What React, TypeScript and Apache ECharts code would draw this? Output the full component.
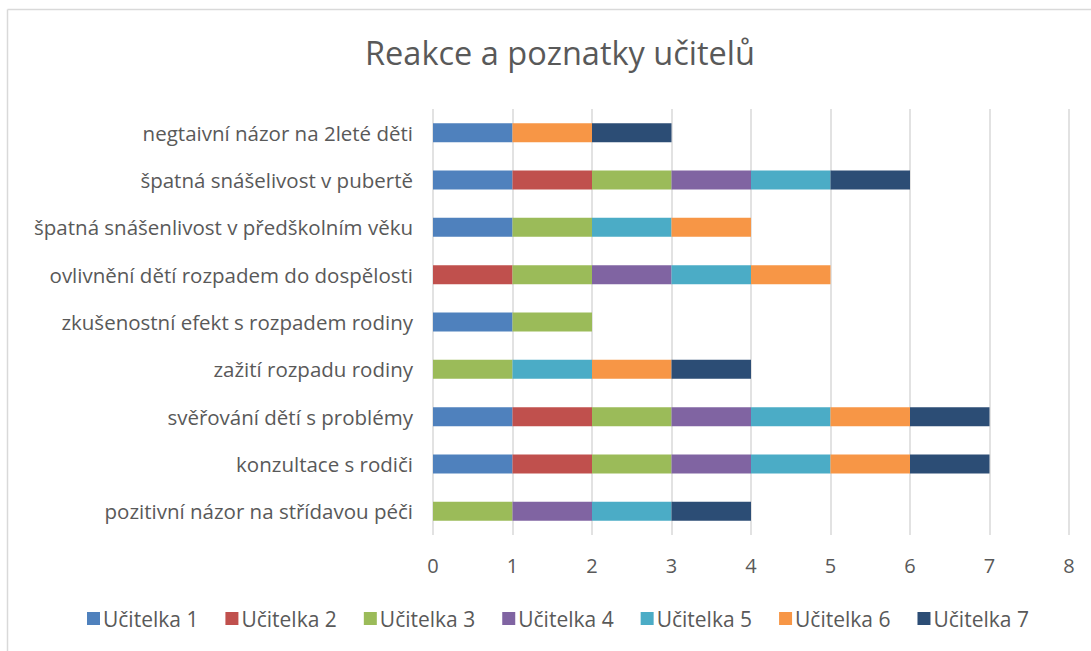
import React, { useEffect, useRef } from "react";
import * as echarts from "echarts";

const categories = [
  "pozitivní názor na střídavou péči",
  "konzultace s rodiči",
  "svěřování dětí s problémy",
  "zažití rozpadu rodiny",
  "zkušenostní efekt s rozpadem rodiny",
  "ovlivnění dětí rozpadem do dospělosti",
  "špatná snášenlivost v předškolním věku",
  "špatná snášelivost v pubertě",
  "negtaivní názor na 2leté děti",
];

const seriesNames = [
  "Učitelka 1",
  "Učitelka 2",
  "Učitelka 3",
  "Učitelka 4",
  "Učitelka 5",
  "Učitelka 6",
  "Učitelka 7",
];

const ucitelka1 = [0, 1, 1, 0, 1, 0, 1, 1, 1];
const ucitelka2 = [0, 1, 1, 0, 0, 1, 0, 1, 0];
const ucitelka3 = [1, 1, 1, 1, 1, 1, 1, 1, 0];
const ucitelka4 = [1, 1, 1, 0, 0, 1, 0, 1, 0];
const ucitelka5 = [1, 1, 1, 1, 0, 1, 1, 1, 0];
const ucitelka6 = [0, 1, 1, 1, 0, 1, 1, 0, 1];
const ucitelka7 = [1, 1, 1, 1, 0, 0, 0, 1, 1];

const seriesValues = [ucitelka1, ucitelka2, ucitelka3, ucitelka4, ucitelka5, ucitelka6, ucitelka7];

const colors = ["#4F81BD", "#C0504D", "#9BBB59", "#8064A2", "#4BACC6", "#F79646", "#2C4D75"];

const FONT = "'Open Sans', 'Noto Sans', sans-serif";
const TEXT = "#595959";

export default function App() {
  const ref = useRef<HTMLDivElement>(null);

  useEffect(() => {
    if (!ref.current) return;
    const chart = echarts.init(ref.current, null, { renderer: "svg" });
    chart.setOption({
      animation: false,
      color: colors,
      textStyle: { fontFamily: FONT },
      title: {
        text: "Reakce a poznatky učitelů",
        left: 555,
        textAlign: "center",
        top: 31,
        textStyle: { fontFamily: FONT, fontSize: 32.5, fontWeight: "normal", color: TEXT },
      },
      graphic: [
        {
          type: "line",
          shape: { x1: 7.5, y1: 9.5, x2: 7.5, y2: 651 },
          style: { stroke: "#d9d9d9", lineWidth: 1.5 },
          silent: true,
        },
        {
          type: "line",
          shape: { x1: 7.5, y1: 9.5, x2: 1091, y2: 9.5 },
          style: { stroke: "#d9d9d9", lineWidth: 1.5 },
          silent: true,
        },
      ],
      legend: {
        bottom: 17,
        left: 82,
        icon: "rect",
        itemWidth: 13,
        itemHeight: 13,
        itemGap: 27,
        textStyle: { fontFamily: FONT, fontSize: 21, color: TEXT, padding: [0, 0, 0, -2] },
        data: seriesNames,
      },
      grid: { left: 433, right: 22, top: 109, bottom: 116, containLabel: false },
      xAxis: {
        type: "value",
        min: 0,
        max: 8,
        interval: 1,
        axisLine: { show: false },
        axisTick: { show: false },
        splitLine: { show: true, lineStyle: { color: "#d9d9d9", width: 1.5 } },
        axisLabel: { fontFamily: FONT, fontSize: 20, color: TEXT, margin: 20 },
      },
      yAxis: {
        type: "category",
        data: categories,
        axisLine: { show: false },
        axisTick: { show: false },
        axisLabel: { fontFamily: FONT, fontSize: 20.5, color: TEXT, margin: 20 },
      },
      series: seriesNames.map((name, i) => ({
        name,
        type: "bar",
        stack: "total",
        barWidth: 19,
        data: seriesValues[i],
        itemStyle: { color: colors[i] },
      })),
    });
    return () => chart.dispose();
  }, []);

  return (
    <div
      ref={ref}
      style={{ position: "fixed", left: 0, top: 0, width: 1091, height: 651, background: "#fff" }}
    />
  );
}
